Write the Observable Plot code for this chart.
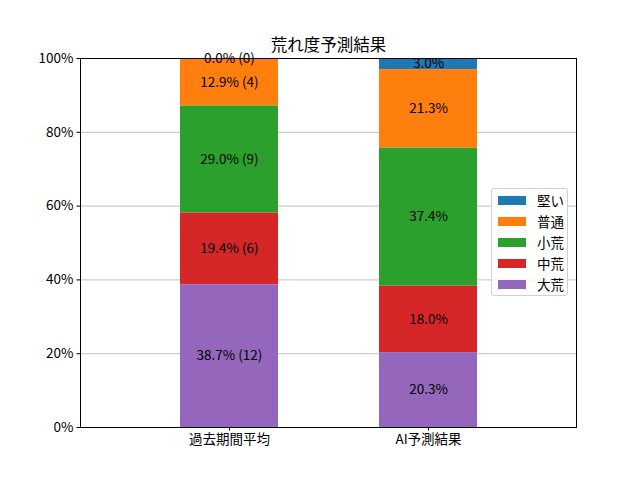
<!DOCTYPE html>
<html><head><meta charset="utf-8">
<script src="https://cdn.jsdelivr.net/npm/d3@7"></script>
<script src="https://cdn.jsdelivr.net/npm/@observablehq/plot@0.6"></script>
<style>
body{margin:0;background:#fff;font-family:"Noto Sans CJK JP","DejaVu Sans",sans-serif;}
#wrap{position:relative;width:640px;height:480px;}
#legend{position:absolute;left:491px;top:188px;width:77px;height:108px;box-sizing:border-box;border:1px solid #d0d0d0;border-radius:3px;background:rgba(255,255,255,0.8);font-size:13.5px;}
.row{position:absolute;left:6px;height:20px;display:flex;align-items:center;}
.sw{width:28px;height:9px;margin-right:11px;}
</style></head>
<body><div id="wrap"></div>
<script>
const groups = ["過去期間平均", "AI予測結果"];
const levels = ["堅い", "普通", "小荒", "中荒", "大荒"];
const colors = ["#1f77b4", "#ff7f0e", "#2ca02c", "#d62728", "#9467bd"];
const pastPct = [0.0, 12.9, 29.0, 19.4, 38.7];
const pastCount = [0, 4, 9, 6, 12];
const aiPct = [3.0, 21.3, 37.4, 18.0, 20.3];
const yTicks = [0, 20, 40, 60, 80, 100];
const gridTicks = [20, 40, 60, 80];
const stackOrder = ["大荒", "中荒", "小荒", "普通", "堅い"];

const rows = [];
levels.forEach((lv, i) => {
  rows.push({group: groups[0], level: lv, v: pastPct[i], label: `${pastPct[i].toFixed(1)}% (${pastCount[i]})`});
  rows.push({group: groups[1], level: lv, v: aiPct[i], label: `${aiPct[i].toFixed(1)}%`});
});

const font = '"Noto Sans CJK JP", sans-serif';
const chart = Plot.plot({
  width: 640, height: 480,
  marginLeft: 80, marginRight: 64, marginTop: 58, marginBottom: 53,
  style: {fontFamily: font, fontSize: "13.5px", color: "#000", background: "#fff"},
  x: {domain: groups, paddingInner: 0.508, paddingOuter: 0.5, label: null},
  y: {domain: [0, 100], label: null},
  color: {domain: levels, range: colors},
  marks: [
    Plot.ruleY(gridTicks, {stroke: "#b0b0b0", strokeWidth: 0.8}),
    Plot.barY(rows, Plot.stackY({order: stackOrder, x: "group", y: "v", z: "level", fill: "level", inset: 0})),
    Plot.text(rows, Plot.stackY({order: stackOrder, x: "group", y: "v", z: "level", text: "label", fill: "#000", fontSize: 13.5, fontFamily: font})),
    Plot.frame({stroke: "#000", strokeWidth: 1}),
    Plot.axisY(yTicks, {tickSize: 3.5, tickPadding: 3.5, tickFormat: d => d + "%", fontSize: 13.5, label: null}),
    Plot.axisX({tickSize: 3.5, tickPadding: 3.5, fontSize: 13.5, label: null}),
    Plot.text(["荒れ度予測結果"], {frameAnchor: "top", dy: -19, fontSize: 16.5, fontFamily: font, fill: "#000"})
  ]
});
const wrap = document.getElementById("wrap");
wrap.appendChild(chart);
const lg = document.createElement("div");
lg.id = "legend";
levels.forEach((lv, i) => {
  const r = document.createElement("div");
  r.className = "row";
  r.style.top = (1 + i * 21) + "px";
  r.innerHTML = `<span class="sw" style="background:${colors[i]}"></span><span>${lv}</span>`;
  lg.appendChild(r);
});
wrap.appendChild(lg);
</script></body></html>
